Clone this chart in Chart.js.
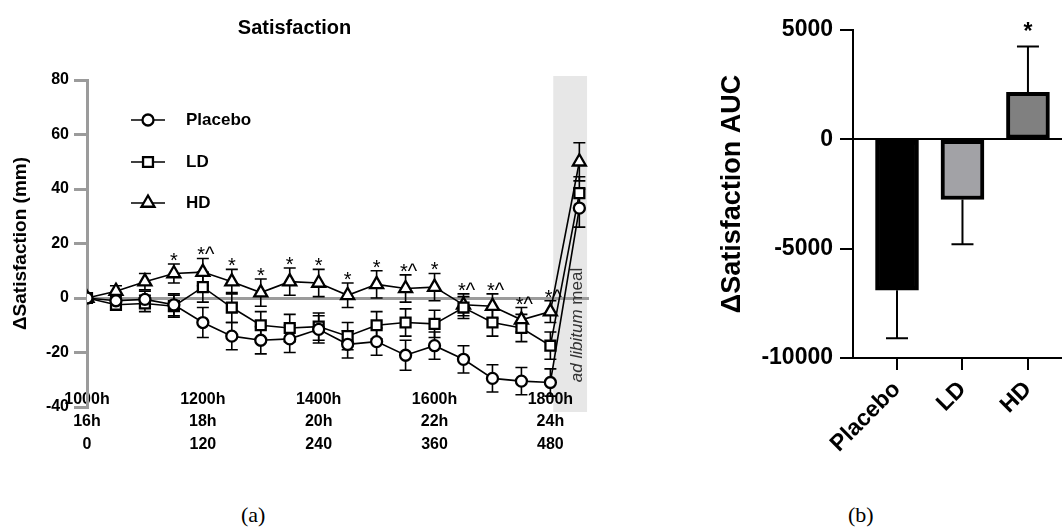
<!DOCTYPE html>
<html>
<head>
<meta charset="utf-8">
<script src="https://cdn.jsdelivr.net/npm/chart.js@4.4.1/dist/chart.umd.min.js"></script>
<style>
  body { margin:0; background:#fff; width:1062px; height:532px; position:relative; overflow:hidden; }
  #chartA { position:absolute; left:0; top:0; }
  #chartB { position:absolute; left:640px; top:0; }
  .cap { position:absolute; font-family:"Liberation Serif", serif; font-size:22px; color:#000; }
</style>
</head>
<body>
<canvas id="chartA" width="620" height="480"></canvas>
<canvas id="chartB" width="422" height="480"></canvas>
<div class="cap" style="left:241px;top:502px">(a)</div>
<div class="cap" style="left:848px;top:502px">(b)</div>
<script>
// ---- panel (a) data ----
const minutes = [0,30,60,90,120,150,180,210,240,270,300,330,360,390,420,450,480,510];
const minuteTicks = [0,120,240,360,480];
const clockLabels = ['1000h','1200h','1400h','1600h','1800h'];
const hourLabels = ['16h','18h','20h','22h','24h'];

const placebo    = [0,-1,-0.5,-2.5,-9,-14,-15.5,-15,-11.5,-17,-16,-21,-17.5,-22.5,-29.5,-30.5,-31,33];
const placeboSem = [0,2,3,4,5.5,5,5,5,5,5,5,5.5,5,5,5,5,5,7];
const ld         = [0,-2.5,-2,-3,4,-3.5,-10,-11,-10.5,-14,-10,-9,-9.5,-3.5,-9,-11,-17.5,38.5];
const ldSem      = [0,2,3,4,5.5,5.5,5,5,5,5,5,5,5,4,5,5,5,6];
const hd         = [0,2.5,6,9,9.5,6,2,6,5.5,1,5,3.5,4,-2.5,-3,-8,-5,50];
const hdSem      = [0,2,3,3.5,5,4.5,5,5,5,4.5,5,5,5,4,4.5,4.5,4,7];
const hdMarks    = ['','','','*','*^','*','*','*','*','*','*','*^','*','*^','*^','*^','*^',''];
const adLibBand  = [483, 518];
const xLabelLevel = -30.2;   // y value where the time labels sit

// ---- panel (b) data ----
const groups = ['Placebo','LD','HD'];
const auc    = [-6900,-2750,2150];
const aucSem = [2200,2050,2100];
const aucMarks = ['','','*'];
const barColors = ['#000000','#a2a2a6','#808080'];

const gray = '#9b9b9b';
const FONT = '"Liberation Sans", Arial, Helvetica, sans-serif';
Chart.defaults.font.family = FONT;
Chart.defaults.color = '#000';

function marker(ctx, style, x, y, r) {
  ctx.beginPath();
  if (style === 'circle') {
    ctx.arc(x, y, r, 0, Math.PI * 2);
  } else if (style === 'rect') {
    const s = r * Math.SQRT1_2;
    ctx.rect(x - s, y - s, 2 * s, 2 * s);
  } else {
    ctx.moveTo(x, y - r);
    ctx.lineTo(x + r * 0.866, y + r * 0.5);
    ctx.lineTo(x - r * 0.866, y + r * 0.5);
    ctx.closePath();
  }
  ctx.fillStyle = '#fff';
  ctx.fill();
  ctx.lineWidth = 2.3;
  ctx.strokeStyle = '#000';
  ctx.stroke();
}

const series = [
  { label: 'Placebo', data: placebo, sem: placeboSem, style: 'circle', r: 5.5 },
  { label: 'LD', data: ld, sem: ldSem, style: 'rect', r: 7 },
  { label: 'HD', data: hd, sem: hdSem, style: 'triangle', r: 7.5 }
];

const panelA = {
  id: 'panelA',
  beforeDraw(chart) {
    const {ctx, chartArea, scales: {x}} = chart;
    const x0 = x.getPixelForValue(adLibBand[0]);
    const x1 = x.getPixelForValue(adLibBand[1]);
    ctx.save();
    ctx.fillStyle = '#e7e7e7';
    ctx.fillRect(x0, chartArea.top - 4, x1 - x0, chartArea.bottom - chartArea.top + 9);
    ctx.restore();
  },
  beforeDatasetsDraw(chart) {
    const {ctx, scales: {x, y}} = chart;
    ctx.save();
    // ad libitum label in the band
    const cx = x.getPixelForValue(adLibBand[1]) - 10;
    const cy = 325;
    ctx.translate(cx, cy);
    ctx.rotate(-Math.PI / 2);
    ctx.fillStyle = '#333';
    ctx.textBaseline = 'middle';
    ctx.font = 'italic 17px ' + FONT;
    const a = 'ad libitum';
    const wa = ctx.measureText(a).width;
    ctx.font = '17px ' + FONT;
    const b = ' meal';
    const wb = ctx.measureText(b).width;
    const start = -(wa + wb) / 2;
    ctx.font = 'italic 17px ' + FONT;
    ctx.textAlign = 'left';
    ctx.fillText(a, start, 0);
    ctx.font = '17px ' + FONT;
    ctx.fillText(b, start + wa, 0);
    ctx.setTransform(1, 0, 0, 1, 0, 0);
    // error bars
    ctx.strokeStyle = '#000';
    ctx.lineWidth = 1.6;
    series.forEach(s => {
      s.data.forEach((v, j) => {
        const e = s.sem[j];
        if (!e) return;
        const px = x.getPixelForValue(minutes[j]);
        const top = y.getPixelForValue(v + e);
        const bot = y.getPixelForValue(v - e);
        ctx.beginPath();
        ctx.moveTo(px, top); ctx.lineTo(px, bot);
        ctx.moveTo(px - 6, top); ctx.lineTo(px + 6, top);
        ctx.moveTo(px - 6, bot); ctx.lineTo(px + 6, bot);
        ctx.stroke();
      });
    });
    ctx.restore();
  },
  afterDatasetsDraw(chart) {
    const {ctx, chartArea, scales: {x, y}} = chart;
    ctx.save();
    // significance marks above HD
    ctx.fillStyle = '#000';
    ctx.font = '20px ' + FONT;
    ctx.textAlign = 'center';
    ctx.textBaseline = 'alphabetic';
    hdMarks.forEach((m, j) => {
      if (!m) return;
      const px = x.getPixelForValue(minutes[j]);
      const top = y.getPixelForValue(hd[j] + hdSem[j]);
      ctx.fillText(m, px + (m.length > 1 ? 3 : 0), top + 3);
    });
    // legend
    const lx = chartArea.left + 44;
    const ys = [chartArea.top + 40, chartArea.top + 82, chartArea.top + 123];
    series.forEach((s, i) => {
      ctx.strokeStyle = '#000';
      ctx.lineWidth = 1.6;
      ctx.beginPath();
      ctx.moveTo(lx, ys[i]); ctx.lineTo(lx + 34, ys[i]);
      ctx.stroke();
      marker(ctx, s.style, lx + 17, ys[i], s.r);
      ctx.fillStyle = '#000';
      ctx.font = 'bold 17px ' + FONT;
      ctx.textAlign = 'left';
      ctx.textBaseline = 'middle';
      ctx.fillText(s.label, lx + 55, ys[i]);
    });
    ctx.restore();
  }
};

new Chart(document.getElementById('chartA'), {
  type: 'line',
  data: {
    datasets: series.map(s => ({
      label: s.label,
      data: s.data.map((v, j) => ({x: minutes[j], y: v})),
      borderColor: '#000',
      borderWidth: 1.6,
      pointStyle: s.style,
      pointRadius: s.r,
      pointBackgroundColor: '#fff',
      pointBorderColor: '#000',
      pointBorderWidth: 2.3,
      tension: 0
    }))
  },
  options: {
    responsive: false,
    animation: false,
    devicePixelRatio: 1,
    layout: { padding: { top: 16, right: 31, left: 0, bottom: 73 } },
    plugins: {
      legend: { display: false },
      tooltip: { enabled: false },
      title: {
        display: true, text: 'Satisfaction', color: '#000',
        font: { size: 20, weight: 'bold' }, padding: { top: 0, bottom: 40 }
      }
    },
    scales: {
      x: {
        type: 'linear', min: 0, max: 520,
        position: { y: xLabelLevel },
        afterBuildTicks: s => { s.ticks = minuteTicks.map(v => ({value: v})); },
        border: { display: false },
        grid: { display: false },
        ticks: {
          autoSkip: false, maxRotation: 0, padding: 0, color: '#000',
          font: { size: 16, weight: 'bold', lineHeight: 22.5 / 16 },
          callback: (v, i) => [clockLabels[i], hourLabels[i], String(minuteTicks[i])]
        }
      },
      y: {
        min: -40, max: 80,
        afterFit: s => { s.width = 87; },
        border: { color: gray, width: 3 },
        grid: {
          color: c => (c.tick && c.tick.value === 0) ? gray : 'rgba(0,0,0,0)',
          tickColor: gray, lineWidth: 3, tickLength: 13
        },
        ticks: { stepSize: 20, padding: 5, color: '#000', font: { size: 16, weight: 'bold' } },
        title: {
          display: true, text: 'ΔSatisfaction (mm)', color: '#000',
          font: { size: 19, weight: 'bold' }, padding: { top: 9, bottom: 0 }
        }
      }
    }
  },
  plugins: [panelA]
});

const panelB = {
  id: 'panelB',
  afterDatasetsDraw(chart) {
    const {ctx, scales: {y}} = chart;
    const meta = chart.getDatasetMeta(0);
    ctx.save();
    ctx.strokeStyle = '#000';
    ctx.lineWidth = 2;
    meta.data.forEach((bar, i) => {
      const v = auc[i];
      const end = y.getPixelForValue(v + Math.sign(v) * aucSem[i]);
      ctx.beginPath();
      ctx.moveTo(bar.x, bar.y); ctx.lineTo(bar.x, end);
      ctx.moveTo(bar.x - 11, end); ctx.lineTo(bar.x + 11, end);
      ctx.stroke();
      if (aucMarks[i]) {
        ctx.fillStyle = '#000';
        ctx.font = 'bold 23px ' + FONT;
        ctx.textAlign = 'center';
        ctx.textBaseline = 'alphabetic';
        ctx.fillText(aucMarks[i], bar.x, end - 7);
      }
    });
    ctx.restore();
  }
};

new Chart(document.getElementById('chartB'), {
  type: 'bar',
  data: {
    datasets: [{
      data: auc.map((v, i) => ({x: i, y: v})),
      backgroundColor: barColors,
      borderColor: '#000',
      borderWidth: 4,
      borderSkipped: false,
      barThickness: 43
    }]
  },
  options: {
    responsive: false,
    animation: false,
    devicePixelRatio: 1,
    layout: { padding: { top: 30, right: 0, left: 0, bottom: 0 } },
    plugins: { legend: { display: false }, tooltip: { enabled: false } },
    scales: {
      x: {
        type: 'linear', min: -0.672, max: 2.52, offset: false,
        afterBuildTicks: s => { s.ticks = groups.map((g, i) => ({value: i})); },
        afterFit: s => { s.height = 122; },
        border: { color: '#000', width: 2 },
        grid: { offset: false, drawOnChartArea: false, color: '#000', lineWidth: 2, tickLength: 12 },
        ticks: {
          autoSkip: false, minRotation: 45, maxRotation: 45, padding: 6, color: '#000',
          font: { size: 23, weight: 'bold' },
          callback: (v, i) => groups[i]
        }
      },
      y: {
        min: -10000, max: 5000,
        afterFit: s => { s.width = 213; },
        border: { color: '#000', width: 2 },
        grid: {
          color: c => (c.tick && c.tick.value === 0) ? '#000' : 'rgba(0,0,0,0)',
          tickColor: '#000', lineWidth: 2, tickLength: 13
        },
        ticks: {
          stepSize: 5000, padding: 7, color: '#000', font: { size: 23, weight: 'bold' },
          callback: v => String(v)
        },
        title: {
          display: true, text: 'ΔSatisfaction AUC', color: '#000',
          font: { size: 27, weight: 'bold' }, padding: { top: 76, bottom: 0 }
        }
      }
    }
  },
  plugins: [panelB]
});
</script>
</body>
</html>
